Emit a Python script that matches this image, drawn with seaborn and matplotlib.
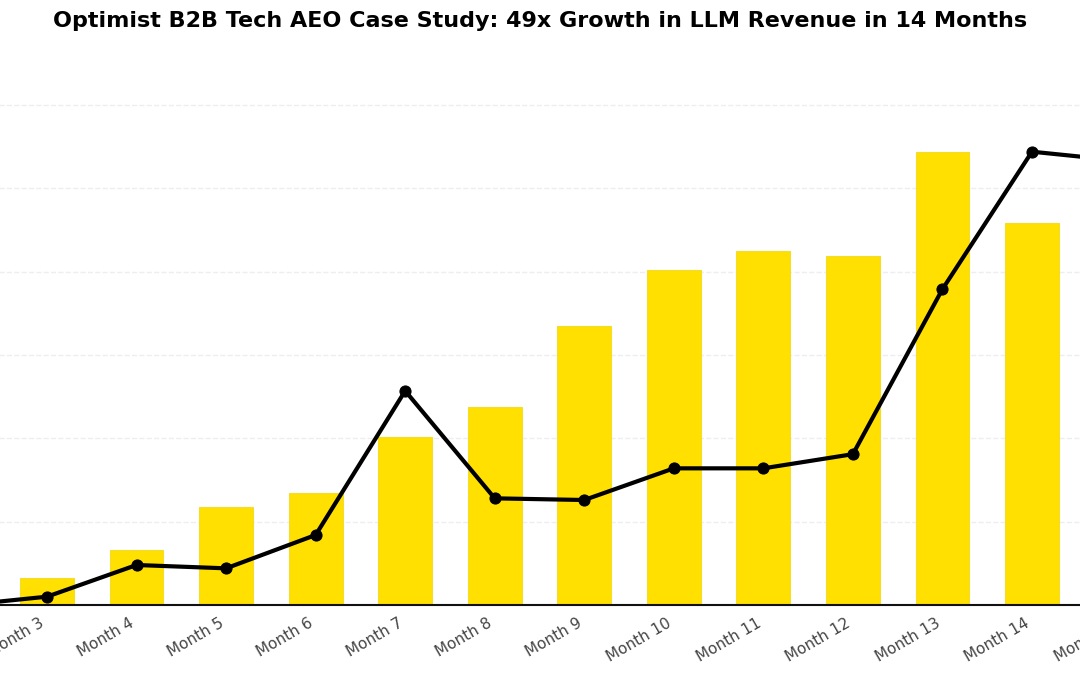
import pandas as pd
import matplotlib
matplotlib.use('Agg')
import matplotlib.pyplot as plt
import seaborn as sns

# Values (grid step = 10 units)
months = ['Month %d' % i for i in range(2, 16)]
bar_values = [1.5, 3.2, 6.6, 11.8, 13.4, 20.2, 23.8, 33.5, 40.2, 42.5, 41.9, 54.4, 45.8, 50.0]
line_values = [-0.1, 1.0, 4.8, 4.4, 8.4, 25.7, 12.8, 12.6, 16.4, 16.4, 18.1, 37.9, 54.4, 53.3]
title = 'Optimist B2B Tech AEO Case Study: 49x Growth in LLM Revenue in 14 Months'

df = pd.DataFrame({'month': months, 'bars': bar_values, 'line': line_values})

sns.set_style('white')
plt.rcParams['font.family'] = ['DejaVu Sans']

fig = plt.figure(figsize=(10.8, 6.75), dpi=100)
W, H = 1080.0, 675.0
# axes runs past both edges of the figure, like the cropped original
left_px, right_px = -87.3, 1166.3
bottom_px, ymax = 605.0, 65.0
top_px = bottom_px - ymax * 8.333
ax = fig.add_axes([left_px / W, 1 - bottom_px / H, (right_px - left_px) / W, (bottom_px - top_px) / H])

sns.barplot(data=df, x='month', y='bars', color='#FFE000', width=0.6,
            edgecolor='#F5DC2A', linewidth=0.8, saturation=1, ax=ax, zorder=2)
sns.lineplot(x=range(len(months)), y=df['line'], color='black', linewidth=3,
             marker='o', markersize=8, markeredgecolor='black', ax=ax, zorder=3)

ax.set_xlim(-0.5, len(months) - 0.5)
ax.set_ylim(0, ymax)
ax.set_yticks([0, 10, 20, 30, 40, 50, 60])
ax.yaxis.grid(True, linestyle='--', color='#EEEEEE', linewidth=1)
ax.set_axisbelow(True)
ax.set_yticklabels([])
ax.tick_params(axis='y', length=0)
ax.set_xticks(range(len(months)))
ax.set_xticklabels(months, rotation=30, ha='right', color='#444444', fontsize=11)
ax.tick_params(axis='x', length=4, width=1, color='#222222', pad=3.5)
ax.set_xlabel('')
ax.set_ylabel('')
for s in ['top', 'left', 'right']:
    ax.spines[s].set_visible(False)
ax.spines['bottom'].set_color('#111111')
ax.spines['bottom'].set_linewidth(1.5)

fig.text(0.5, 1 - 21 / H, title, ha='center', va='center', color='black',
         fontsize=16, fontweight='bold')

fig.savefig('out.png', dpi=100)
